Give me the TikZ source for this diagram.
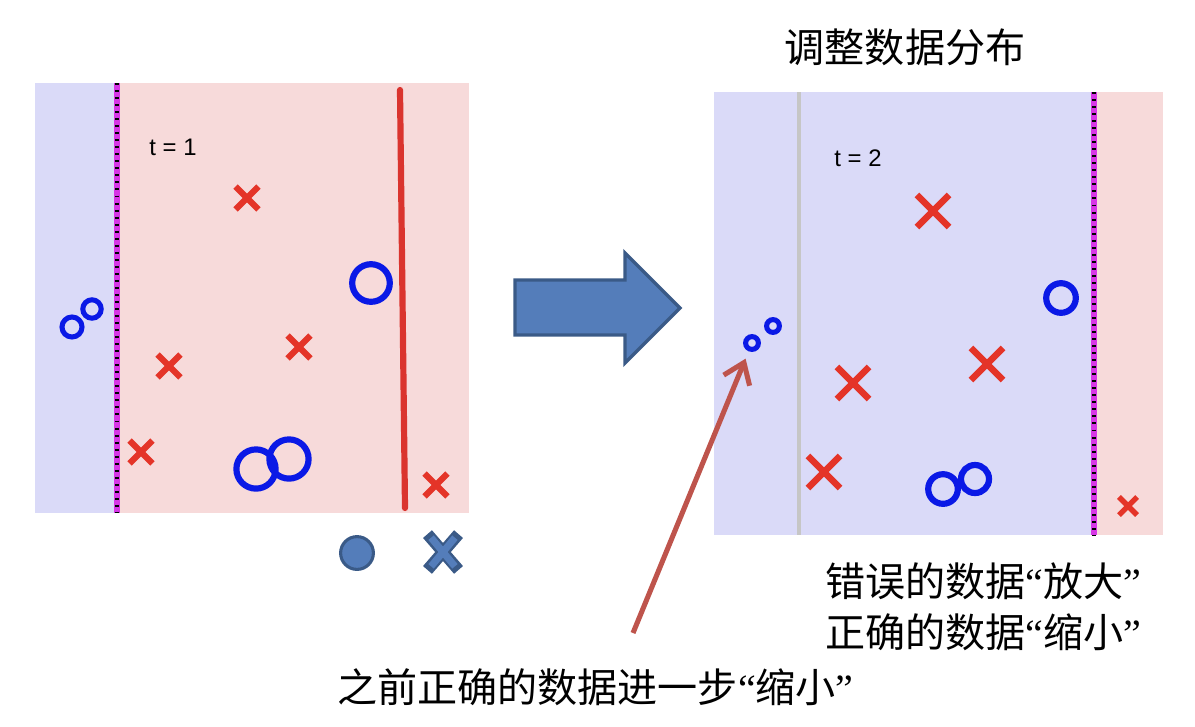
\documentclass[tikz,border=0pt]{standalone}
\usepackage{fontspec}
\setmainfont{Liberation Sans}
\newfontfamily\cjk{Noto Sans CJK SC}
\newfontfamily\qfont{Liberation Serif}
\usepackage{tikz}
\usetikzlibrary{shapes.misc, arrows.meta, positioning}
\definecolor{zoneblue}{RGB}{218,218,248}
\definecolor{zonepink}{RGB}{247,218,218}
\definecolor{ringblue}{RGB}{10,25,230}
\definecolor{crossred}{RGB}{228,52,40}
\definecolor{cutred}{RGB}{218,52,46}
\definecolor{sepmag}{RGB}{215,55,230}
\definecolor{legfill}{RGB}{84,125,186}
\definecolor{legdark}{RGB}{58,90,135}
\definecolor{pointred}{RGB}{190,84,76}
\newcommand\cnq[1]{{\qfont “}#1{\qfont ”}}
\tikzset{
  redx/.style={cross out, draw=crossred, line width=4.3pt,
    minimum size=0.42cm, inner sep=0pt},
  bigx/.style={redx, minimum size=0.64cm, line width=4.6pt},
  smallx/.style={redx, minimum size=0.32cm, line width=3.8pt},
  ring/.style={circle, draw=ringblue, line width=4.4pt,
    inner sep=0pt, minimum size=#1},
  dot/.style={circle, draw=ringblue, line width=3.6pt,
    inner sep=0pt, minimum size=#1},
  sepline/.style={preaction={draw=sepmag, line width=4.6pt},
    draw=black, line width=3.4pt, dash pattern=on 1.4pt off 3.6pt},
  cutline/.style={draw=cutred, line width=4.4pt, line cap=round},
  label/.style={font=\fontsize{17}{19}\selectfont},
  cjktext/.style={font=\cjk\fontsize{28.5}{36.5}\selectfont, inner sep=0pt},
  pointer/.style={-{Straight Barb[length=0.48cm, width=0.7cm]},
    draw=pointred, line width=3.6pt},
  legx/.style={cross out, inner sep=0pt}
}
\begin{document}
\begin{tikzpicture}[x=0.025cm, y=-0.025cm]
  \useasboundingbox (0,0) rectangle (1195,726);

  % t = 1
  \fill[zoneblue] (35,83) rectangle (117,513);
  \fill[zonepink] (117,83) rectangle (469,513);
  \draw[gray!70, line width=0.6pt] (114,83) -- (114,513);
  \draw[sepline] (117,83) -- (117,513);
  \draw[cutline] (400,90) -- (405,508);
  \node[label] (t1) at (173,147) {t = 1};
  \node[redx] (a1) at (247,198) {};
  \node[redx] (a2) at (169,366) {};
  \node[redx] (a3) at (299,347) {};
  \node[redx] (a4) at (141,452) {};
  \node[redx] (a5) at (436,485) {};
  \node[ring=0.94cm] (b1) at (371,283) {};
  \node[ring=0.98cm] (b2) at (256,469) {};
  \node[ring=0.98cm] (b3) at (289,459) {};
  \node[dot=0.5cm] (b4) at (72,327) {};
  \node[dot=0.46cm] (b5) at (92,309) {};

  % legend
  \node[circle, fill=legfill, draw=legdark, line width=2.2pt, minimum size=0.82cm] (lo) at (357,553) {};
  \node[legx, draw=legdark, line width=8.4pt, minimum width=0.48cm, minimum height=0.6cm] (lx) at (443,552) {};
  \node[legx, draw=legfill, line width=5pt, minimum width=0.42cm, minimum height=0.54cm] at (lx) {};

  % big arrow
  \draw[fill=legfill, draw=legdark, line width=2.4pt]
    (515,280) -- (625,280) -- (625,253) -- (680,308) -- (625,363) -- (625,335) -- (515,335) -- cycle;

  % t = 2
  \fill[zoneblue] (714,92) rectangle (1094,535);
  \fill[zonepink] (1094,92) rectangle (1163,535);
  \draw[gray!45, line width=2.4pt] (799,92) -- (799,535);
  \draw[gray!70, line width=0.6pt] (1091,92) -- (1091,535);
  \draw[sepline] (1094,92) -- (1094,535);
  \node[label] (t2) at (858,158) {t = 2};
  \node[bigx] (c1) at (933,211) {};
  \node[bigx] (c2) at (853,383) {};
  \node[bigx] (c3) at (987,364) {};
  \node[bigx] (c4) at (824,472) {};
  \node[smallx] (c5) at (1128,506) {};
  \node[ring=0.74cm] (d1) at (1061,298) {};
  \node[ring=0.74cm] (d2) at (943,489) {};
  \node[ring=0.7cm] (d3) at (975,479) {};
  \node[dot=0.32cm] (s1) at (752,343) {};
  \node[dot=0.32cm] (s2) at (773,326) {};

  \node[cjktext] (title) at (905,47) {调整数据分布};
  \node[cjktext, anchor=west, align=left] (note) at (825,607)
    {错误的数据\cnq{放大}\\正确的数据\cnq{缩小}};
  \node[cjktext, anchor=west] (prev) at (337,687) {之前正确的数据进一步\cnq{缩小}};

  \coordinate (tail) at (633,633);
  \draw[pointer, shorten >=0.2cm] (tail) -- (s1);
\end{tikzpicture}
\end{document}
